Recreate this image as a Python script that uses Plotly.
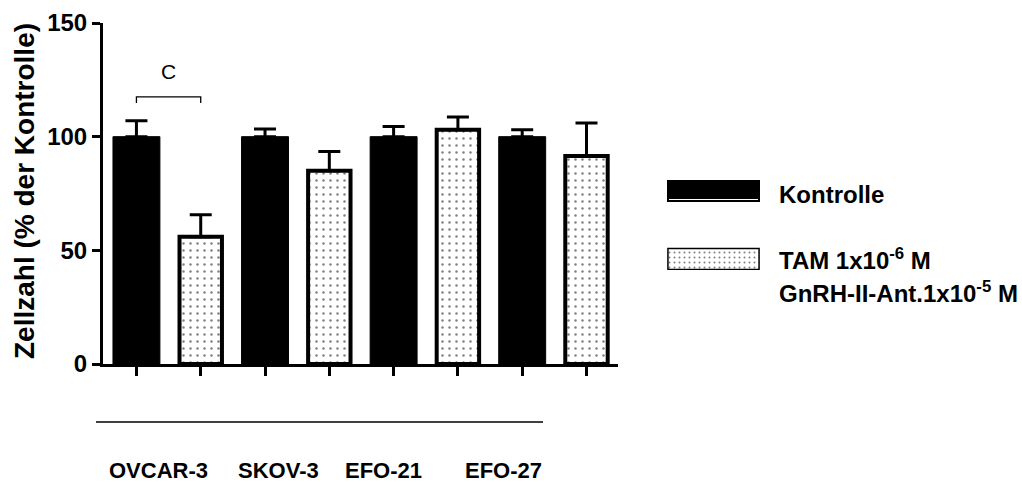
import plotly.graph_objects as go

# ---- data ----
cell_lines = ["OVCAR-3", "SKOV-3", "EFO-21", "EFO-27"]
series_names = ["Kontrolle", "TAM 1x10<sup>-6</sup> M<br>GnRH-II-Ant.1x10<sup>-5</sup> M"]
kontrolle_vals = [100, 100, 100, 100]
kontrolle_err = [7, 3.4, 4.5, 3]
tam_vals = [56, 85, 103, 91.5]
tam_err = [9.7, 8.5, 5.7, 14.5]
y_ticks = [0, 50, 100, 150]
sig_label = "C"

W, H = 1022, 482
FONT = "Liberation Sans, Arial, sans-serif"

def px_x(p):
    return p / W

def px_y(p):
    return 1 - p / H

# interleave bar positions: control at even, treatment at odd
k_x = [2 * i for i in range(len(cell_lines))]
t_x = [2 * i + 1 for i in range(len(cell_lines))]

fig = go.Figure()

fig.add_trace(go.Bar(
    x=k_x, y=kontrolle_vals, width=0.73,
    marker=dict(color="black", line=dict(color="black", width=1)),
    error_y=dict(type="data", array=kontrolle_err, arrayminus=[0] * 4, symmetric=False,
                 color="black", thickness=3, width=11),
    showlegend=False, xaxis="x", yaxis="y",
))
fig.add_trace(go.Bar(
    x=t_x, y=tam_vals, width=0.66,
    marker=dict(color="white", line=dict(color="black", width=4),
                pattern=dict(shape=".", fgcolor="black", bgcolor="white", size=7, solidity=0.1)),
    error_y=dict(type="data", array=tam_err, arrayminus=[0] * 4, symmetric=False,
                 color="black", thickness=3, width=11),
    showlegend=False, xaxis="x", yaxis="y",
))

# legend swatches on their own small axes
fig.add_trace(go.Bar(
    x=[0], y=[22], base=[68], width=1,
    marker=dict(color="black", line=dict(color="black", width=0)),
    showlegend=False, xaxis="x2", yaxis="y2", hoverinfo="skip",
))
fig.add_trace(go.Bar(
    x=[0], y=[21], base=[0.5], width=0.98,
    marker=dict(color="white", line=dict(color="black", width=1.5),
                pattern=dict(shape=".", fgcolor="black", bgcolor="white", size=5, solidity=0.12)),
    showlegend=False, xaxis="x2", yaxis="y2", hoverinfo="skip",
))

shapes = [
    # significance bracket
    dict(type="path", xref="x", yref="y",
         path="M 0,114.8 L 0,117.5 L 1,117.5 L 1,114.8",
         line=dict(color="black", width=1.3)),
    # line above the cell line labels
    dict(type="line", xref="paper", yref="paper",
         x0=px_x(96), x1=px_x(543), y0=px_y(422), y1=px_y(422),
         line=dict(color="black", width=1.5)),
    # white line inside black legend swatch
    dict(type="line", xref="paper", yref="paper",
         x0=px_x(669), x1=px_x(758), y0=px_y(199.5), y1=px_y(199.5),
         line=dict(color="white", width=1)),
]

annotations = [
    dict(text=sig_label, x=0.5, y=128.5, xref="x", yref="y", showarrow=False,
         xanchor="center", yanchor="middle",
         font=dict(family=FONT, size=21, color="black")),
    dict(text="Zellzahl (% der Kontrolle)", x=px_x(25), y=px_y(191), xref="paper", yref="paper",
         xanchor="center", yanchor="middle",
         textangle=-90, showarrow=False,
         font=dict(family=FONT, size=28, color="black", weight="bold")),
    dict(text=series_names[0], x=px_x(777), y=px_y(194), xref="paper", yref="paper",
         xanchor="left", yanchor="middle", showarrow=False,
         font=dict(family=FONT, size=24, color="black", weight="bold")),
]
lab_lines = series_names[1].split("<br>")
annotations.append(dict(text=lab_lines[0], x=px_x(777), y=px_y(259), xref="paper", yref="paper",
                        xanchor="left", yanchor="middle", showarrow=False,
                        font=dict(family=FONT, size=24, color="black", weight="bold")))
annotations.append(dict(text=lab_lines[1], x=px_x(777), y=px_y(292), xref="paper", yref="paper",
                        xanchor="left", yanchor="middle", showarrow=False,
                        font=dict(family=FONT, size=24, color="black", weight="bold")))

label_px = [158, 278, 383, 503]
for name, xp in zip(cell_lines, label_px):
    annotations.append(dict(text=name, x=px_x(xp), y=px_y(470), xref="paper", yref="paper",
                            xanchor="center", yanchor="middle", showarrow=False,
                            font=dict(family=FONT, size=22, color="black", weight="bold")))

fig.update_layout(
    width=W, height=H,
    margin=dict(l=0, r=0, t=0, b=0),
    paper_bgcolor="white", plot_bgcolor="white",
    barmode="overlay",
    font=dict(family=FONT, color="black"),
    xaxis=dict(domain=[px_x(103), px_x(618)], range=[-0.52, 7.49],
               tickvals=list(range(8)), ticktext=[""] * 8,
               ticks="outside", ticklen=9, tickwidth=2.5, tickcolor="black",
               showline=True, linecolor="black", linewidth=3,
               showgrid=False, zeroline=False, automargin=False, fixedrange=True),
    yaxis=dict(domain=[px_y(364), px_y(23)], range=[0, 150],
               tickvals=y_ticks, ticks="outside", ticklen=8, tickwidth=3, tickcolor="black",
               tickfont=dict(family=FONT, size=24, color="black", weight="bold"),
               showline=True, linecolor="black", linewidth=3,
               showgrid=False, zeroline=False, automargin=False, fixedrange=True),
    xaxis2=dict(domain=[px_x(667), px_x(760)], range=[-0.5, 0.5], anchor="y2",
                visible=False, fixedrange=True),
    yaxis2=dict(domain=[px_y(270), px_y(180)], range=[0, 90], anchor="x2",
                visible=False, fixedrange=True),
    shapes=shapes,
    annotations=annotations,
)

fig.write_html("out.html")
